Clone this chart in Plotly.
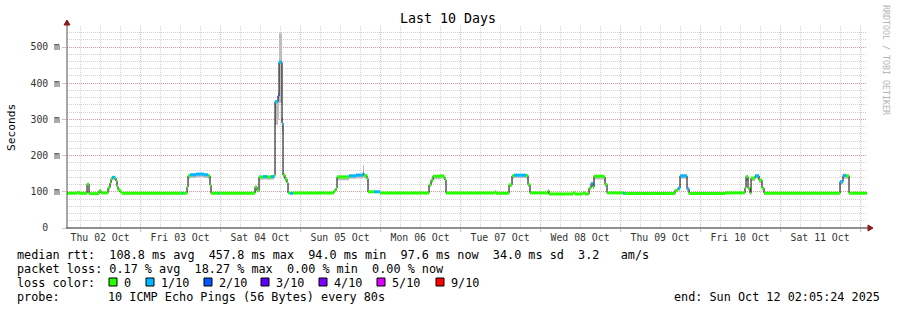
import plotly.graph_objects as go

# ---------------- data ----------------
START = "2025-10-02 02:05:24"
END = "2025-10-12 02:05:24"

# step breakpoints of the median RTT (ms), loss level index and smoke range (ms)
times = [
    "2025-10-02 02:05:24", "2025-10-02 05:06", "2025-10-02 05:42", "2025-10-02 08:06", "2025-10-02 08:42",
    "2025-10-02 11:42", "2025-10-02 12:18", "2025-10-02 14:24", "2025-10-02 15:00", "2025-10-02 15:18",
    "2025-10-02 15:36", "2025-10-02 16:30", "2025-10-02 16:48", "2025-10-02 17:06", "2025-10-02 17:24",
    "2025-10-02 18:00", "2025-10-02 18:36", "2025-10-03 12:36", "2025-10-03 12:54", "2025-10-03 14:06",
    "2025-10-03 14:24", "2025-10-03 15:00", "2025-10-03 16:48", "2025-10-03 19:12", "2025-10-03 20:24",
    "2025-10-03 21:00", "2025-10-03 21:18", "2025-10-03 23:24", "2025-10-03 23:42", "2025-10-04 10:30",
    "2025-10-04 11:06", "2025-10-04 11:42", "2025-10-04 12:54", "2025-10-04 14:06", "2025-10-04 15:18",
    "2025-10-04 16:12", "2025-10-04 16:30", "2025-10-04 17:24", "2025-10-04 17:42", "2025-10-04 18:36",
    "2025-10-04 18:54", "2025-10-04 19:30", "2025-10-04 20:06", "2025-10-04 20:24", "2025-10-04 21:00",
    "2025-10-04 21:54", "2025-10-05 10:12", "2025-10-05 10:48", "2025-10-05 11:06", "2025-10-05 14:42",
    "2025-10-05 16:48", "2025-10-05 18:54", "2025-10-05 19:12", "2025-10-05 20:06", "2025-10-05 20:24",
    "2025-10-05 22:12", "2025-10-06 00:00", "2025-10-06 14:42", "2025-10-06 15:18", "2025-10-06 15:54",
    "2025-10-06 18:00", "2025-10-06 19:12", "2025-10-06 19:30", "2025-10-06 19:48", "2025-10-07 10:30",
    "2025-10-07 10:48", "2025-10-07 14:42", "2025-10-07 15:36", "2025-10-07 16:12", "2025-10-07 19:48",
    "2025-10-07 20:24", "2025-10-07 21:00", "2025-10-08 02:24", "2025-10-08 02:42", "2025-10-08 09:54",
    "2025-10-08 10:30", "2025-10-08 12:54", "2025-10-08 13:30", "2025-10-08 14:42", "2025-10-08 15:18",
    "2025-10-08 15:54", "2025-10-08 16:12", "2025-10-08 19:12", "2025-10-08 19:30", "2025-10-08 20:06",
    "2025-10-09 00:54", "2025-10-09 01:30", "2025-10-09 16:30", "2025-10-09 17:24", "2025-10-09 18:00",
    "2025-10-09 20:06", "2025-10-09 20:42", "2025-10-10 07:30", "2025-10-10 13:30", "2025-10-10 13:48",
    "2025-10-10 14:24", "2025-10-10 15:00", "2025-10-10 15:18", "2025-10-10 16:30", "2025-10-10 17:42",
    "2025-10-10 18:36", "2025-10-10 19:12", "2025-10-11 18:00", "2025-10-11 18:54", "2025-10-11 19:48",
    "2025-10-11 20:42",
]
median_ms = [
    96, 98, 96, 121, 95,
    103, 97, 111, 124, 135,
    140, 138, 130, 115, 106,
    100, 96, 96, 96, 113,
    144, 147, 149, 147, 144,
    118, 96, 96, 96, 113,
    103, 141, 142, 141, 142,
    145, 349, 365, 458, 289,
    146, 135, 125, 97, 96,
    97, 103, 110, 141, 144,
    146, 151, 145, 137, 100,
    100, 97, 119, 132, 143,
    144, 140, 133, 97, 100,
    96, 119, 144, 146, 145,
    120, 97, 103, 94, 97,
    94, 97, 94, 110, 123,
    113, 143, 141, 120, 97,
    96, 95, 104, 110, 144,
    108, 95, 97, 111, 142,
    110, 96, 138, 144, 132,
    110, 96, 128, 145, 144,
    96,
]
loss_idx = [
    0, 0, 0, 0, 0,
    0, 0, 0, 0, 0,
    1, 0, 0, 0, 0,
    0, 0, 1, 0, 0,
    0, 1, 1, 1, 0,
    0, 0, 1, 0, 0,
    0, 0, 1, 0, 1,
    0, 1, 2, 1, 1,
    0, 0, 0, 0, 1,
    0, 0, 0, 0, 1,
    1, 1, 0, 0, 0,
    1, 0, 0, 0, 0,
    0, 0, 0, 0, 0,
    0, 0, 0, 1, 0,
    0, 0, 0, 0, 0,
    0, 0, 0, 0, 1,
    0, 0, 0, 0, 0,
    1, 0, 0, 1, 1,
    1, 0, 0, 0, 0,
    0, 0, 0, 1, 0,
    0, 0, 1, 1, 0,
    0,
]
smoke_lo_ms = [
    None, None, None, None, None,
    None, None, 104, 117, 128,
    132, 130, 122, 108, 101,
    None, None, None, None, 108,
    136, 138, 140, 138, 136,
    112, None, None, None, 106,
    None, 133, 134, 133, 134,
    137, 285, 300, 345, 265,
    138, 128, 118, None, None,
    None, None, 104, 132, 136,
    137, 140, 137, 130, None,
    None, None, 113, 125, 135,
    136, 132, 126, None, None,
    None, 113, 136, 138, 137,
    114, None, None, None, None,
    None, None, None, 104, 116,
    107, 134, 130, 114, None,
    None, None, None, 104, 136,
    103, None, None, 105, 130,
    104, None, 130, 136, 125,
    104, None, 120, 136, 136,
    None,
]
smoke_hi_ms = [
    None, None, None, None, None,
    None, None, 114, 127, 138,
    143, 141, 133, 118, 108,
    None, None, None, None, 116,
    147, 150, 152, 150, 147,
    121, None, None, None, 116,
    None, 144, 145, 144, 145,
    148, 352, 372, 538, 305,
    152, 139, 128, None, None,
    None, None, 113, 145, 148,
    150, 174, 149, 140, None,
    None, None, 122, 135, 146,
    147, 143, 136, None, None,
    None, 122, 147, 149, 148,
    123, None, None, None, None,
    None, None, None, 113, 126,
    116, 146, 144, 123, None,
    None, None, None, 113, 148,
    111, None, None, 114, 145,
    113, None, 141, 148, 136,
    113, None, 131, 150, 148,
    None,
]

loss_labels = ["0", "1/10", "2/10", "3/10", "4/10", "5/10", "9/10"]
loss_colors = ["#26ff00", "#00b8ff", "#0059ff", "#5e00ff", "#7e00ff", "#dd00ff", "#ff0000"]

y_tickvals_ms = [0, 100, 200, 300, 400, 500]
y_ticktext = ["0\u00a0\u00a0", "100 m", "200 m", "300 m", "400 m", "500 m"]

median_stats = ["108.8 ms avg", "457.8 ms max", "94.0 ms min", "97.6 ms now", "34.0 ms sd", "3.2   am/s"]
loss_stats = ["0.17 % avg", "18.27 % max", "0.00 % min", "0.00 % now"]
probe_text = "10 ICMP Echo Pings (56 Bytes) every 80s"
end_text = "end: Sun Oct 12 02:05:24 2025"
title_text = "Last 10 Days"

# ---------------- geometry helpers ----------------
W, H = 897, 310
PL, PT, PW, PH = 67, 26, 800, 202
MONO = "DejaVu Sans Mono"


def pxx(x):
    return (x - PL) / PW


def pxy(y):
    return (PT + PH - y) / PH


def nb(s):
    return s.replace(" ", "\u00a0")


GRID = "rgba(140,140,140,0.4)"
MGRID = "rgba(220,80,80,0.42)"
DASH = "1px,1px"

# ---------------- traces ----------------
xs = times + [END]
med_s = [v / 1000 for v in median_ms]
ys = med_s + [med_s[-1]]
lo = [(l if l is not None else m) / 1000 for l, m in zip(smoke_lo_ms, median_ms)]
hi = [(h if h is not None else m) / 1000 for h, m in zip(smoke_hi_ms, median_ms)]
lo = lo + [lo[-1]]
hi = hi + [hi[-1]]

fig = go.Figure()
fig.add_trace(go.Scatter(x=xs, y=lo, mode="lines", line=dict(width=0, shape="hv"),
                         hoverinfo="skip", showlegend=False))
fig.add_trace(go.Scatter(x=xs, y=hi, mode="lines", line=dict(width=0, shape="hv"),
                         fill="tonexty", fillcolor="#bdbdbd", hoverinfo="skip", showlegend=False))
fig.add_trace(go.Scatter(x=xs, y=ys, mode="lines", line=dict(color="#000000", width=1, shape="hv"),
                         hoverinfo="skip", showlegend=False))

for li, col in enumerate(loss_colors):
    sx, sy = [], []
    for i in range(len(times)):
        if loss_idx[i] == li:
            sx += [xs[i], xs[i + 1], None]
            sy += [ys[i], ys[i], None]
    if sx:
        fig.add_trace(go.Scatter(x=sx, y=sy, mode="lines", line=dict(color=col, width=3),
                                 hoverinfo="skip", showlegend=False))

# ---------------- layout ----------------
fig.update_layout(
    width=W, height=H,
    margin=dict(l=PL, r=W - PL - PW, t=PT, b=H - PT - PH, pad=0),
    paper_bgcolor="white", plot_bgcolor="white",
    showlegend=False,
    font=dict(family=MONO, color="#000"),
)
fig.update_xaxes(
    type="date", range=[START, END],
    tick0="2025-10-02", dtick=86400000, tickformat="%a %d %b", ticklabelmode="period",
    showgrid=True, gridcolor=MGRID, griddash=DASH, gridwidth=1,
    ticks="outside", ticklen=3, tickcolor=MGRID, ticklabelstandoff=-3,
    tickfont=dict(family=MONO, size=9.8, color="#333"),
    minor=dict(dtick=6 * 3600 * 1000, tick0="2025-10-02", showgrid=True, gridcolor=GRID,
               griddash=DASH, gridwidth=1, ticks=""),
    showline=False, zeroline=False, fixedrange=True,
)
fig.update_yaxes(
    range=[0, 0.558], tickmode="array", tickvals=[v / 1000 for v in y_tickvals_ms], ticktext=y_ticktext,
    showgrid=True, gridcolor=MGRID, griddash=DASH, gridwidth=1,
    ticks="outside", ticklen=4, tickcolor=MGRID,
    tickfont=dict(family=MONO, size=9.8, color="#333"),
    minor=dict(dtick=0.02, tick0=0, showgrid=True, gridcolor=GRID, griddash=DASH, gridwidth=1, ticks=""),
    showline=False, zeroline=False, fixedrange=True,
)

shapes = []
# axes
shapes.append(dict(type="line", xref="paper", yref="paper", x0=pxx(66), x1=pxx(869), y0=pxy(228), y1=pxy(228),
                   line=dict(color="#202020", width=1)))
shapes.append(dict(type="line", xref="paper", yref="paper", x0=pxx(67), x1=pxx(67), y0=pxy(228), y1=pxy(24),
                   line=dict(color="#505050", width=1)))
ARROW = "#8b1a1a"
shapes.append(dict(type="path", xref="paper", yref="paper",
                   path=f"M {pxx(868)} {pxy(225)} L {pxx(873)} {pxy(228)} L {pxx(868)} {pxy(231)} Z",
                   fillcolor=ARROW, line=dict(color=ARROW, width=1)))
shapes.append(dict(type="path", xref="paper", yref="paper",
                   path=f"M {pxx(64)} {pxy(25)} L {pxx(67)} {pxy(20)} L {pxx(70)} {pxy(25)} Z",
                   fillcolor=ARROW, line=dict(color=ARROW, width=1)))

annotations = []


def txt(text, x, y, size=11.8, xanchor="left", color="#000", angle=0):
    annotations.append(dict(text=nb(text), xref="paper", yref="paper", x=pxx(x), y=pxy(y),
                            xanchor=xanchor, yanchor="middle", showarrow=False, borderpad=0,
                            textangle=angle, font=dict(family=MONO, size=size, color=color)))


txt(title_text, 448, 19, size=13.3, xanchor="center")
txt("Seconds", 11, 127, size=11.2, xanchor="center", angle=-90)
txt("RRDTOOL / TOBI OETIKER", 886, 60, size=8.3, xanchor="center", color="#b4b4b4", angle=90)

txt("median rtt:  " + "  ".join(median_stats), 16, 255)
txt("packet loss: " + "  ".join(loss_stats), 16, 268.5)
txt("loss color:", 16, 282.5)
label_x = [123, 160, 218, 275, 333, 391, 450]
for lab, col, lx in zip(loss_labels, loss_colors, label_x):
    txt(lab, lx, 282.5)
    shapes.append(dict(type="rect", xref="paper", yref="paper", x0=pxx(lx - 14), x1=pxx(lx - 6),
                       y0=pxy(286), y1=pxy(278), fillcolor=col, line=dict(color="#000", width=1)))
txt("probe:", 16, 296.5)
txt(probe_text, 107, 296.5)
txt(end_text, 881, 296.5, xanchor="right")

fig.update_layout(shapes=shapes, annotations=annotations)

fig.write_html("out.html", config={"displayModeBar": False, "staticPlot": True})
